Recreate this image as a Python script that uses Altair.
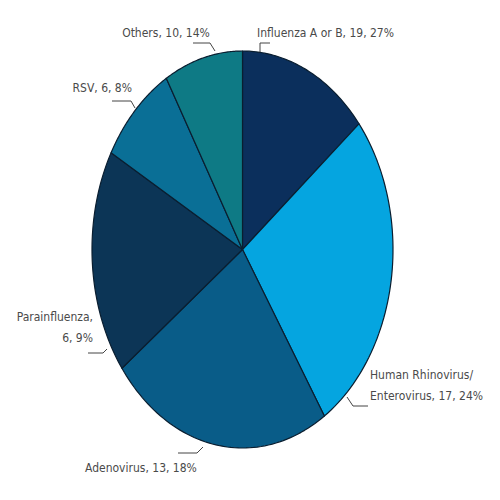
import altair as alt
import pandas as pd

# Slices as drawn (clockwise from 12 o'clock)
slice_names = ["Influenza A or B", "Human Rhinovirus/Enterovirus", "Adenovirus",
               "Parainfluenza", "RSV", "Others"]
slice_values = [10, 19, 17, 13, 6, 6]
slice_colors = ["#0b2f5c", "#05a5e0", "#095c88", "#0c3556", "#0a6f96", "#0e7a85"]

# Label texts (as printed on the chart)
label_lines = [
    ["Influenza A or B, 19, 27%"],
    ["Human Rhinovirus/", "Enterovirus, 17, 24%"],
    ["Adenovirus, 13, 18%"],
    ["Parainfluenza,", "6, 9%"],
    ["RSV, 6, 8%"],
    ["Others, 10, 14%"],
]

# ---- layout (pixels inside the 484x484 plot) ----
W, H = 484, 484
CX, CY, RX, RY = 234.5, 241.5, 150.5, 198.5
N = 60

label_pos = [  # x, y of first line, align
    (249, 25, "left"),
    (362, 367, "left"),
    (77, 460, "left"),
    (85, 309, "right"),
    (124, 80, "right"),
    (158, 25, "center"),
]
line_gap = 21

leaders = [
    [(262, 35), (252, 35), (252, 44)],
    [(339, 389), (345, 398), (360, 398)],
    [(170, 445), (189, 445), (195, 439)],
    [(80, 345), (95, 345), (99, 341)],
    [(104, 93), (123, 93), (127, 100)],
    [(185, 35), (202, 35), (207, 43)],
]

pie_df = pd.DataFrame({"name": slice_names, "value": slice_values,
                       "idx": list(range(len(slice_names)))})

xdom = [(0 - CX) / RX, (W - CX) / RX]
ydom = [(CY - H) / RY, CY / RY]

pie = (
    alt.Chart(pie_df)
    .transform_window(cum="sum(value)", sort=[alt.SortField("idx")])
    .transform_joinaggregate(total="sum(value)")
    .transform_calculate(steps=f"sequence(0, {N + 3})")
    .transform_flatten(["steps"])
    .transform_calculate(
        a=f"2 * PI * ((datum.cum - datum.value) / datum.total + datum.value / datum.total * clamp((datum.steps - 1) / {N}, 0, 1))",
    )
    .transform_calculate(
        px=f"(datum.steps == 0 || datum.steps == {N + 2}) ? 0 : sin(datum.a)",
        py=f"(datum.steps == 0 || datum.steps == {N + 2}) ? 0 : cos(datum.a)",
    )
    .mark_line(filled=True, stroke="#0a1e30", strokeWidth=1.2, strokeJoin="round")
    .encode(
        x=alt.X("px:Q", scale=alt.Scale(domain=xdom, nice=False, zero=False), axis=None),
        y=alt.Y("py:Q", scale=alt.Scale(domain=ydom, nice=False, zero=False), axis=None),
        color=alt.Color("name:N", scale=alt.Scale(domain=slice_names, range=slice_colors), legend=None),
        order=alt.Order("steps:Q"),
    )
)

rows = []
for lines, (x, y, al) in zip(label_lines, label_pos):
    for i, s in enumerate(lines):
        rows.append({"text": s, "lx": x, "ly": y + i * line_gap, "al": al})
lab_df = pd.DataFrame(rows)

texts = []
for al in ["left", "right", "center"]:
    sub = lab_df[lab_df["al"] == al]
    texts.append(
        alt.Chart(sub)
        .mark_text(align=al, baseline="middle", font="DejaVu Sans Condensed",
                   fontSize=12, color="#4a4a4a")
        .encode(x=alt.X("lx:Q", scale=None), y=alt.Y("ly:Q", scale=None), text="text:N")
    )

lrows = []
for k, pts in enumerate(leaders):
    for j, (x, y) in enumerate(pts):
        lrows.append({"id": k, "o": j, "lx": x, "ly": y})
lead_df = pd.DataFrame(lrows)
lead = (
    alt.Chart(lead_df)
    .mark_line(color="#444444", strokeWidth=1)
    .encode(x=alt.X("lx:Q", scale=None), y=alt.Y("ly:Q", scale=None),
            detail="id:N", order="o:Q")
)

chart = (
    alt.layer(pie, lead, *texts)
    .resolve_scale(x="independent", y="independent")
    .properties(width=W, height=H, autosize=alt.AutoSizeParams(type="none"), padding=0)
    .configure_view(stroke=None)
)

chart.save("out.html", embed_options={"renderer": "svg", "actions": False})
